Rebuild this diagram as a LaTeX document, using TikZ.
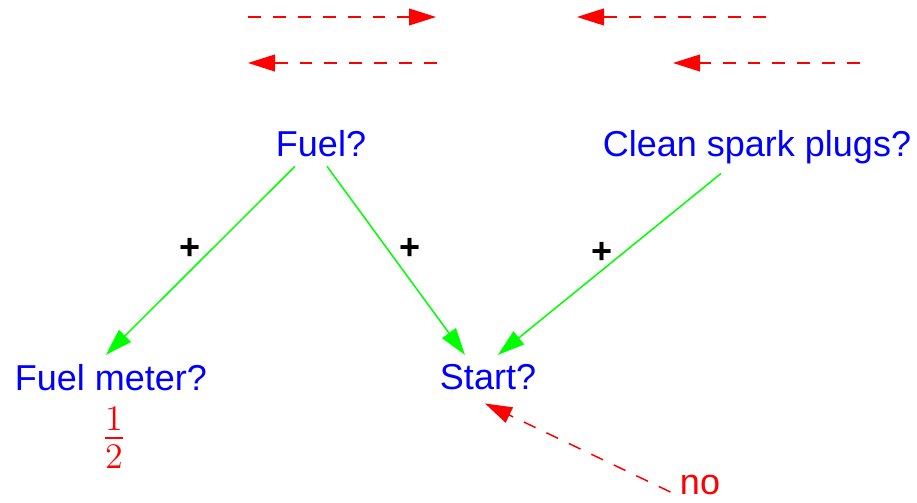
\documentclass[tikz,border=0pt]{standalone}
\usepackage{fontspec}
\setmainfont{Liberation Sans}
\usetikzlibrary{arrows.meta}

\tikzset{
    qnode/.style={text=blue, inner sep=3pt, outer sep=0pt, anchor=base, font=\fontsize{12}{14}\selectfont},
    vote/.style={text=red, inner sep=0pt, font=\fontsize{12}{14}\selectfont},
    plus/.style={text=black, inner sep=0pt, font=\fontsize{12}{14}\selectfont\bfseries},
    link/.style={draw={rgb,255:red,0;green,255;blue,0}, line width=0.5pt,
        -{Triangle[length=9pt,width=5.6pt]}},
    msg/.style={draw=red, line width=0.5pt, dash pattern=on 4.3pt off 4pt,
        -{Triangle[length=9pt,width=5.6pt]}}
}

\begin{document}
\begin{tikzpicture}[x=0.3333pt, y=-0.3333pt]
    \useasboundingbox (0,0) rectangle (917,503);

    % messages along the top
    \coordinate (m1a) at (248,17);  \coordinate (m1b) at (436,17);
    \coordinate (m2a) at (766,17);  \coordinate (m2b) at (577,17);
    \coordinate (m3a) at (437,63);  \coordinate (m3b) at (248,63);
    \coordinate (m4a) at (860,63);  \coordinate (m4b) at (673,63);
    \draw[msg] (m1a) -- (m1b);
    \draw[msg] (m2a) -- (m2b);
    \draw[msg] (m3a) -- (m3b);
    \draw[msg] (m4a) -- (m4b);

    % questions
    \node[qnode] (fuel)  at (321,157) {Fuel?};
    \node[qnode] (plugs) at (757,157) {Clean spark plugs?};
    \node[qnode] (meter) at (111,390) {Fuel meter?};
    \node[qnode] (start) at (488,389) {Start?};

    \node[vote, font=\fontsize{17}{20}\selectfont] (half) at (114,438) {$\frac{1}{2}$};
    \node[vote, anchor=base] (no) at (700,494) {no};

    \draw[link] ([xshift=-8.7pt]fuel.south) -- ([xshift=-1.7pt]meter.north)
        node[plus, pos=0.44, xshift=-7.3pt] {+};
    \draw[link] ([xshift=2pt]fuel.south) -- ([xshift=-7.7pt]start.north)
        node[plus, pos=0.44, xshift=7.3pt] {+};
    \draw[link] ([xshift=-12pt]plugs.south) -- ([xshift=3.3pt]start.north)
        node[plus, pos=0.44, xshift=-7pt] {+};

    \draw[msg] ([xshift=-3pt, yshift=-2.5pt]no.west) -- ([xshift=-1pt, yshift=-1.7pt]start.south);
\end{tikzpicture}
\end{document}
